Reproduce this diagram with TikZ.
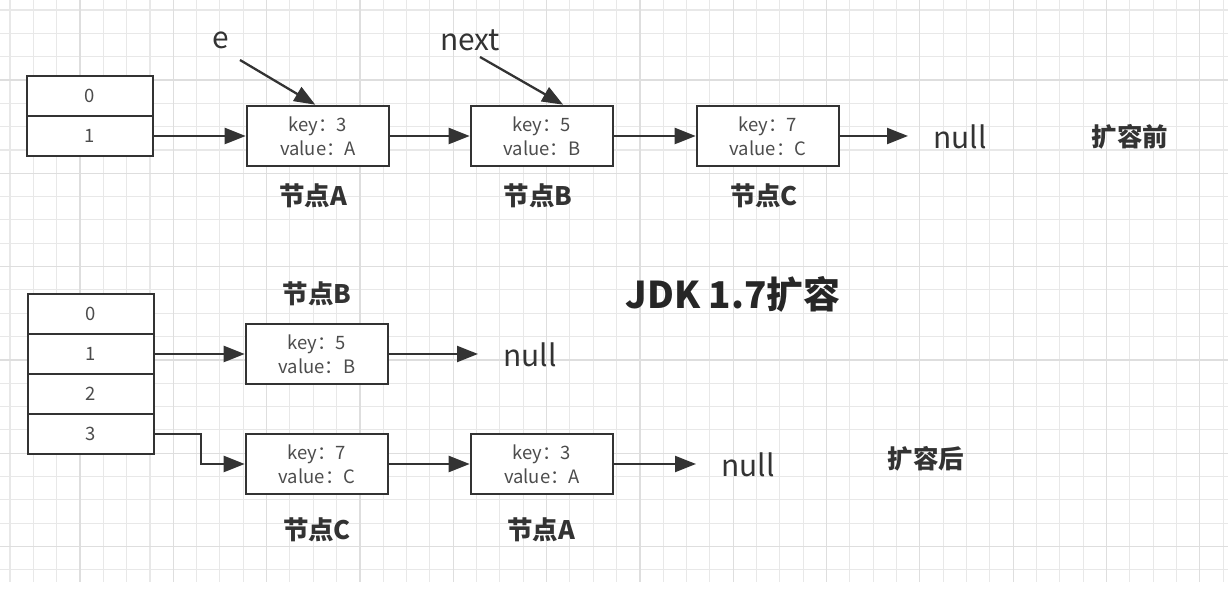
\documentclass[tikz,border=0pt]{standalone}
\usepackage{fontspec}
\setmainfont{Noto Sans CJK SC}
\usetikzlibrary{arrows.meta}

\begin{document}
\begin{tikzpicture}[x=0.02cm,y=-0.02cm,
  cell/.style={draw=black!80,line width=1.5pt,minimum width=2.52cm,minimum height=0.8cm,inner sep=0pt,fill=white,text=black!70,font=\fontsize{10.5}{12}\selectfont},
  entry/.style={draw=black!80,line width=1.5pt,minimum width=2.84cm,minimum height=1.2cm,inner sep=0pt,fill=white,text=black!70,align=center,font=\fontsize{10.5}{13.5}\selectfont},
  lbl/.style={text=black!80,font=\fontsize{14.5}{16}\selectfont\bfseries},
  big/.style={text=black!80,inner sep=0pt,font=\fontsize{17}{20}\selectfont},
  ptr/.style={draw=black!80,line width=1.3pt,-{Triangle[length=0.42cm,width=0.32cm]}},
  gridline/.style={draw=black!9,line width=0.6pt},
  gridmajor/.style={draw=black!13,line width=0.7pt}]
\useasboundingbox (0,0) rectangle (1228,614);
\fill[white] (0,0) rectangle (1228,614);
\foreach \i in {0,...,52} \draw[gridline] ({10+23.33*\i},0) -- ({10+23.33*\i},582);
\foreach \j in {0,...,24} \draw[gridline] (0,{10+23.33*\j}) -- (1228,{10+23.33*\j});
\foreach \i in {3,7,...,51} \draw[gridmajor] ({10+23.33*\i},0) -- ({10+23.33*\i},582);
\foreach \j in {3,7,...,23} \draw[gridmajor] (0,{10+23.33*\j}) -- (1228,{10+23.33*\j});

\node[cell] (t0) at (90,96) {0};
\node[cell] (t1) at (90,136) {1};
\node[entry] (nA) at (318,136) {key：3\\value：A};
\node[entry] (nB) at (542,136) {key：5\\value：B};
\node[entry] (nC) at (768,136) {key：7\\value：C};
\node[big,anchor=west] (null1) at (933,137) {null};
\node[lbl] (before) at (1130,137) {扩容前};
\node[lbl] (labA) at (313,196) {节点A};
\node[lbl] (labB) at (538,196) {节点B};
\node[lbl] (labC) at (764,196) {节点C};
\node[big] (e) at (221,40) {e};
\node[big] (next) at (470,40) {next};
\coordinate (eTail) at (240,60);
\coordinate (nextTail) at (480,57);
\draw[ptr] (eTail) -- (nA.95);
\draw[ptr] (nextTail) -- (nB.56);
\draw[ptr] (t1) -- (nA);
\draw[ptr] (nA) -- (nB);
\draw[ptr] (nB) -- (nC);
\draw[ptr,shorten >=0.5cm] (nC) -- (nC -| null1.west);

\node[text=black!85,font=\fontsize{21}{24}\selectfont\bfseries] (title) at (733,294) {JDK 1.7扩容};

\node[cell] (b0) at (91,314) {0};
\node[cell] (b1) at (91,354) {1};
\node[cell] (b2) at (91,394) {2};
\node[cell] (b3) at (91,434) {3};
\node[entry] (mB) at (317,354) {key：5\\value：B};
\node[entry] (mC) at (317,464) {key：7\\value：C};
\node[entry] (mA) at (542,464) {key：3\\value：A};
\node[big,anchor=west] (null2) at (503,355) {null};
\node[big,anchor=west] (null3) at (721,465) {null};
\node[lbl] (labB2) at (317,294) {节点B};
\node[lbl] (labC2) at (317,530) {节点C};
\node[lbl] (labA2) at (541,530) {节点A};
\node[lbl] (after) at (926,459) {扩容后};
\draw[ptr] (b1) -- (mB);
\draw[ptr] (b3.east) -- ++(46,0) |- (mC.west);
\draw[ptr] (mC) -- (mA);
\draw[ptr,shorten >=0.5cm] (mB) -- (mB -| null2.west);
\draw[ptr,shorten >=0.5cm] (mA) -- (mA -| null3.west);
\end{tikzpicture}
\end{document}
